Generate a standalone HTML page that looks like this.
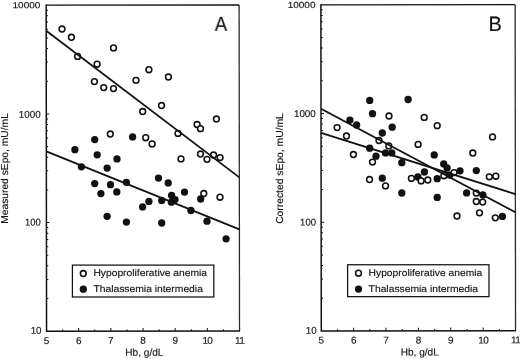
<!DOCTYPE html>
<html><head><meta charset="utf-8"><style>
html,body{margin:0;padding:0;background:#fff;}
svg{display:block;will-change:transform;font-family:"Liberation Sans",sans-serif;fill:#111;}
text{text-rendering:geometricPrecision;stroke:#111;stroke-width:0.14px;}
.l{font-size:9.7px;}
.b{filter:blur(0.35px);}
.tx{filter:blur(0.2px);}
</style></head><body>
<svg width="520" height="359" viewBox="0 0 520 359">
<rect width="520" height="359" fill="#fff"/>
<g class="b"><g transform="rotate(-0.0705 260 180)"><path d="M46.37 4.95H239.33" fill="none" stroke="#111" stroke-width="1.3"/><path d="M239.33 4.95V331.03" fill="none" stroke="#2a2a2a" stroke-width="1.3"/>
<path d="M46.37 4.3500000000000005V331.03H239.83" fill="none" stroke="#111" stroke-width="1.5"/>
<path d="M46.37 298.31h1.8M46.37 279.17h1.8M46.37 265.59h1.8M46.37 255.06h1.8M46.37 246.45h1.8M46.37 239.17h1.8M46.37 232.87h1.8M46.37 227.31h1.8M46.37 222.34h3M46.37 189.62h1.8M46.37 170.48h1.8M46.37 156.90h1.8M46.37 146.36h1.8M46.37 137.76h1.8M46.37 130.48h1.8M46.37 124.18h1.8M46.37 118.62h1.8M46.37 113.64h3M46.37 80.92h1.8M46.37 61.78h1.8M46.37 48.20h1.8M46.37 37.67h1.8M46.37 29.06h1.8M46.37 21.79h1.8M46.37 15.48h1.8M46.37 9.92h1.8" stroke="#111" stroke-width="1" fill="none"/>
<path d="M62.45 331.03v-1.8M78.53 331.03v-3.2M94.61 331.03v-1.8M110.69 331.03v-3.2M126.77 331.03v-1.8M142.85 331.03v-3.2M158.93 331.03v-1.8M175.01 331.03v-3.2M191.09 331.03v-1.8M207.17 331.03v-3.2M223.25 331.03v-1.8" stroke="#111" stroke-width="1" fill="none"/></g>
<circle cx="94.7" cy="139.6" r="3.65" fill="#111"/>
<circle cx="132.6" cy="136.9" r="3.65" fill="#111"/>
<circle cx="74.9" cy="149.7" r="3.65" fill="#111"/>
<circle cx="97.2" cy="154.8" r="3.65" fill="#111"/>
<circle cx="117.0" cy="158.9" r="3.65" fill="#111"/>
<circle cx="81.4" cy="166.8" r="3.65" fill="#111"/>
<circle cx="107.1" cy="168.1" r="3.65" fill="#111"/>
<circle cx="94.7" cy="183.6" r="3.65" fill="#111"/>
<circle cx="110.5" cy="184.7" r="3.65" fill="#111"/>
<circle cx="126.4" cy="182.3" r="3.65" fill="#111"/>
<circle cx="100.9" cy="193.6" r="3.65" fill="#111"/>
<circle cx="116.8" cy="191.9" r="3.65" fill="#111"/>
<circle cx="142.6" cy="206.9" r="3.65" fill="#111"/>
<circle cx="148.9" cy="201.4" r="3.65" fill="#111"/>
<circle cx="107.1" cy="216.3" r="3.65" fill="#111"/>
<circle cx="126.4" cy="222.1" r="3.65" fill="#111"/>
<circle cx="158.5" cy="178.1" r="3.65" fill="#111"/>
<circle cx="168.2" cy="182.9" r="3.65" fill="#111"/>
<circle cx="184.5" cy="192.1" r="3.65" fill="#111"/>
<circle cx="171.6" cy="195.5" r="3.65" fill="#111"/>
<circle cx="175.0" cy="199.6" r="3.65" fill="#111"/>
<circle cx="171.4" cy="202.2" r="3.65" fill="#111"/>
<circle cx="161.7" cy="200.4" r="3.65" fill="#111"/>
<circle cx="200.7" cy="199.0" r="3.65" fill="#111"/>
<circle cx="190.9" cy="210.5" r="3.65" fill="#111"/>
<circle cx="161.7" cy="223.0" r="3.65" fill="#111"/>
<circle cx="207.0" cy="221.2" r="3.65" fill="#111"/>
<circle cx="226.1" cy="238.8" r="3.65" fill="#111"/>
<circle cx="62.0" cy="29.0" r="2.9" fill="#fff" stroke="#111" stroke-width="1.55"/>
<circle cx="71.4" cy="37.3" r="2.9" fill="#fff" stroke="#111" stroke-width="1.55"/>
<circle cx="77.6" cy="56.4" r="2.9" fill="#fff" stroke="#111" stroke-width="1.55"/>
<circle cx="97.1" cy="64.2" r="2.9" fill="#fff" stroke="#111" stroke-width="1.55"/>
<circle cx="113.5" cy="47.9" r="2.9" fill="#fff" stroke="#111" stroke-width="1.55"/>
<circle cx="94.4" cy="81.6" r="2.9" fill="#fff" stroke="#111" stroke-width="1.55"/>
<circle cx="103.7" cy="87.6" r="2.9" fill="#fff" stroke="#111" stroke-width="1.55"/>
<circle cx="113.5" cy="88.6" r="2.9" fill="#fff" stroke="#111" stroke-width="1.55"/>
<circle cx="136.0" cy="80.3" r="2.9" fill="#fff" stroke="#111" stroke-width="1.55"/>
<circle cx="148.9" cy="69.7" r="2.9" fill="#fff" stroke="#111" stroke-width="1.55"/>
<circle cx="168.4" cy="77.0" r="2.9" fill="#fff" stroke="#111" stroke-width="1.55"/>
<circle cx="161.5" cy="105.5" r="2.9" fill="#fff" stroke="#111" stroke-width="1.55"/>
<circle cx="142.7" cy="111.5" r="2.9" fill="#fff" stroke="#111" stroke-width="1.55"/>
<circle cx="216.4" cy="119.0" r="2.9" fill="#fff" stroke="#111" stroke-width="1.55"/>
<circle cx="197.1" cy="124.5" r="2.9" fill="#fff" stroke="#111" stroke-width="1.55"/>
<circle cx="200.5" cy="128.7" r="2.9" fill="#fff" stroke="#111" stroke-width="1.55"/>
<circle cx="178.0" cy="133.4" r="2.9" fill="#fff" stroke="#111" stroke-width="1.55"/>
<circle cx="145.7" cy="137.7" r="2.9" fill="#fff" stroke="#111" stroke-width="1.55"/>
<circle cx="152.1" cy="143.9" r="2.9" fill="#fff" stroke="#111" stroke-width="1.55"/>
<circle cx="200.5" cy="154.0" r="2.9" fill="#fff" stroke="#111" stroke-width="1.55"/>
<circle cx="207.0" cy="159.3" r="2.9" fill="#fff" stroke="#111" stroke-width="1.55"/>
<circle cx="213.6" cy="155.0" r="2.9" fill="#fff" stroke="#111" stroke-width="1.55"/>
<circle cx="220.1" cy="157.6" r="2.9" fill="#fff" stroke="#111" stroke-width="1.55"/>
<circle cx="181.0" cy="158.9" r="2.9" fill="#fff" stroke="#111" stroke-width="1.55"/>
<circle cx="110.3" cy="134.0" r="2.9" fill="#fff" stroke="#111" stroke-width="1.55"/>
<circle cx="203.8" cy="193.5" r="2.9" fill="#fff" stroke="#111" stroke-width="1.55"/>
<circle cx="220.0" cy="197.2" r="2.9" fill="#fff" stroke="#111" stroke-width="1.55"/>
<line x1="46.2" y1="30.75" x2="239.33" y2="177.4" stroke="#111" stroke-width="1.8"/>
<line x1="46.33" y1="151.4" x2="239.38" y2="229.35" stroke="#111" stroke-width="1.8"/>
<rect x="72.4" y="265.1" width="141.4" height="31.9" fill="#fff" stroke="#111" stroke-width="1.25"/>
<circle cx="83.30000000000001" cy="273.5" r="2.9" fill="#fff" stroke="#111" stroke-width="1.55"/>
<circle cx="83.30000000000001" cy="289.2" r="3.65" fill="#111"/></g>
<g class="tx"><g transform="rotate(-0.0705 260 180)"><text transform="translate(41.37 333.53) scale(0.98 0.98)" text-anchor="end" style="font-size:10px" >10</text>
<text transform="translate(40.77 225.14) scale(0.95 0.98)" text-anchor="end" style="font-size:10px" >100</text>
<text transform="translate(40.77 117.44) scale(0.985 0.98)" text-anchor="end" style="font-size:10px" >1000</text>
<text transform="translate(40.57 7.85) scale(1.0 0.88)" text-anchor="end" style="font-size:10px" >10000</text>
<text transform="translate(46.37 343.66) scale(1.0 0.98)" text-anchor="middle" style="font-size:10px" >5</text>
<text transform="translate(78.53 343.66) scale(1.0 0.98)" text-anchor="middle" style="font-size:10px" >6</text>
<text transform="translate(110.69 343.66) scale(1.0 0.98)" text-anchor="middle" style="font-size:10px" >7</text>
<text transform="translate(142.85 343.66) scale(1.0 0.98)" text-anchor="middle" style="font-size:10px" >8</text>
<text transform="translate(175.01 343.66) scale(1.0 0.98)" text-anchor="middle" style="font-size:10px" >9</text>
<text transform="translate(207.47 343.66) scale(1.0 0.98)" text-anchor="middle" style="font-size:10px" >1<tspan dx="-0.7">0</tspan></text>
<text transform="translate(239.63 343.66) scale(1.0 0.98)" text-anchor="middle" style="font-size:10px" >1<tspan dx="-0.7">1</tspan></text>
<text transform="translate(144.15 355.66) scale(1.01 1.0)" text-anchor="middle" style="font-size:10px" >Hb, g/dL</text></g>
<text transform="translate(8.10 168.5) rotate(-90)" text-anchor="middle" style="font-size:10.1px" textLength="110.7" lengthAdjust="spacingAndGlyphs">Measured sEpo, mU/mL</text>
<text transform="translate(221.05 31.20) scale(0.92 1.02)" text-anchor="middle" style="font-size:20px" >A</text>
<text x="93.4" y="276.35" class="l" textLength="113.7" lengthAdjust="spacingAndGlyphs">Hypoproliferative anemia</text>
<text x="93.4" y="291.85" class="l" textLength="109.5" lengthAdjust="spacingAndGlyphs">Thalassemia intermedia</text></g>
<g class="b"><g transform="rotate(-0.0705 260 180)"><path d="M321.1 4.95H515.35" fill="none" stroke="#111" stroke-width="1.3"/><path d="M515.35 4.95V331.03" fill="none" stroke="#2a2a2a" stroke-width="1.3"/>
<path d="M321.1 4.3500000000000005V331.03H515.85" fill="none" stroke="#111" stroke-width="1.5"/>
<path d="M321.1 298.31h1.8M321.1 279.17h1.8M321.1 265.59h1.8M321.1 255.06h1.8M321.1 246.45h1.8M321.1 239.17h1.8M321.1 232.87h1.8M321.1 227.31h1.8M321.1 222.34h3M321.1 189.62h1.8M321.1 170.48h1.8M321.1 156.90h1.8M321.1 146.36h1.8M321.1 137.76h1.8M321.1 130.48h1.8M321.1 124.18h1.8M321.1 118.62h1.8M321.1 113.64h3M321.1 80.92h1.8M321.1 61.78h1.8M321.1 48.20h1.8M321.1 37.67h1.8M321.1 29.06h1.8M321.1 21.79h1.8M321.1 15.48h1.8M321.1 9.92h1.8" stroke="#111" stroke-width="1" fill="none"/>
<path d="M337.29 331.03v-1.8M353.48 331.03v-3.2M369.66 331.03v-1.8M385.85 331.03v-3.2M402.04 331.03v-1.8M418.23 331.03v-3.2M434.41 331.03v-1.8M450.60 331.03v-3.2M466.79 331.03v-1.8M482.98 331.03v-3.2M499.16 331.03v-1.8" stroke="#111" stroke-width="1" fill="none"/></g>
<circle cx="369.7" cy="100.4" r="3.65" fill="#111"/>
<circle cx="408.1" cy="99.5" r="3.65" fill="#111"/>
<circle cx="372.5" cy="113.7" r="3.65" fill="#111"/>
<circle cx="349.9" cy="120.1" r="3.65" fill="#111"/>
<circle cx="356.6" cy="125.0" r="3.65" fill="#111"/>
<circle cx="392.2" cy="127.2" r="3.65" fill="#111"/>
<circle cx="382.3" cy="133.0" r="3.65" fill="#111"/>
<circle cx="369.7" cy="148.2" r="3.65" fill="#111"/>
<circle cx="385.5" cy="152.9" r="3.65" fill="#111"/>
<circle cx="391.8" cy="152.9" r="3.65" fill="#111"/>
<circle cx="376.0" cy="156.2" r="3.65" fill="#111"/>
<circle cx="401.8" cy="162.7" r="3.65" fill="#111"/>
<circle cx="382.3" cy="178.2" r="3.65" fill="#111"/>
<circle cx="401.8" cy="193.0" r="3.65" fill="#111"/>
<circle cx="417.9" cy="177.0" r="3.65" fill="#111"/>
<circle cx="424.4" cy="172.0" r="3.65" fill="#111"/>
<circle cx="434.2" cy="154.9" r="3.65" fill="#111"/>
<circle cx="443.7" cy="163.9" r="3.65" fill="#111"/>
<circle cx="447.1" cy="168.0" r="3.65" fill="#111"/>
<circle cx="460.0" cy="170.8" r="3.65" fill="#111"/>
<circle cx="476.3" cy="170.6" r="3.65" fill="#111"/>
<circle cx="437.2" cy="178.7" r="3.65" fill="#111"/>
<circle cx="449.7" cy="175.1" r="3.65" fill="#111"/>
<circle cx="437.2" cy="197.4" r="3.65" fill="#111"/>
<circle cx="466.6" cy="192.9" r="3.65" fill="#111"/>
<circle cx="482.9" cy="195.0" r="3.65" fill="#111"/>
<circle cx="502.4" cy="216.4" r="3.65" fill="#111"/>
<circle cx="389.0" cy="116.0" r="2.9" fill="#fff" stroke="#111" stroke-width="1.55"/>
<circle cx="424.2" cy="117.4" r="2.9" fill="#fff" stroke="#111" stroke-width="1.55"/>
<circle cx="337.1" cy="127.6" r="2.9" fill="#fff" stroke="#111" stroke-width="1.55"/>
<circle cx="346.5" cy="136.0" r="2.9" fill="#fff" stroke="#111" stroke-width="1.55"/>
<circle cx="379.0" cy="140.5" r="2.9" fill="#fff" stroke="#111" stroke-width="1.55"/>
<circle cx="388.8" cy="145.9" r="2.9" fill="#fff" stroke="#111" stroke-width="1.55"/>
<circle cx="418.1" cy="144.4" r="2.9" fill="#fff" stroke="#111" stroke-width="1.55"/>
<circle cx="353.4" cy="154.5" r="2.9" fill="#fff" stroke="#111" stroke-width="1.55"/>
<circle cx="372.5" cy="162.1" r="2.9" fill="#fff" stroke="#111" stroke-width="1.55"/>
<circle cx="369.5" cy="179.5" r="2.9" fill="#fff" stroke="#111" stroke-width="1.55"/>
<circle cx="385.5" cy="185.9" r="2.9" fill="#fff" stroke="#111" stroke-width="1.55"/>
<circle cx="411.4" cy="178.4" r="2.9" fill="#fff" stroke="#111" stroke-width="1.55"/>
<circle cx="421.1" cy="180.9" r="2.9" fill="#fff" stroke="#111" stroke-width="1.55"/>
<circle cx="437.2" cy="125.7" r="2.9" fill="#fff" stroke="#111" stroke-width="1.55"/>
<circle cx="492.5" cy="136.9" r="2.9" fill="#fff" stroke="#111" stroke-width="1.55"/>
<circle cx="472.8" cy="153.0" r="2.9" fill="#fff" stroke="#111" stroke-width="1.55"/>
<circle cx="454.0" cy="172.6" r="2.9" fill="#fff" stroke="#111" stroke-width="1.55"/>
<circle cx="489.3" cy="176.8" r="2.9" fill="#fff" stroke="#111" stroke-width="1.55"/>
<circle cx="495.8" cy="176.2" r="2.9" fill="#fff" stroke="#111" stroke-width="1.55"/>
<circle cx="427.8" cy="180.0" r="2.9" fill="#fff" stroke="#111" stroke-width="1.55"/>
<circle cx="443.9" cy="175.7" r="2.9" fill="#fff" stroke="#111" stroke-width="1.55"/>
<circle cx="476.3" cy="193.1" r="2.9" fill="#fff" stroke="#111" stroke-width="1.55"/>
<circle cx="476.3" cy="201.5" r="2.9" fill="#fff" stroke="#111" stroke-width="1.55"/>
<circle cx="482.7" cy="202.1" r="2.9" fill="#fff" stroke="#111" stroke-width="1.55"/>
<circle cx="479.5" cy="212.8" r="2.9" fill="#fff" stroke="#111" stroke-width="1.55"/>
<circle cx="457.0" cy="216.0" r="2.9" fill="#fff" stroke="#111" stroke-width="1.55"/>
<circle cx="495.3" cy="217.8" r="2.9" fill="#fff" stroke="#111" stroke-width="1.55"/>
<line x1="321.0" y1="108.8" x2="515.39" y2="212.3" stroke="#111" stroke-width="1.8"/>
<line x1="321.04" y1="132.9" x2="515.37" y2="194.05" stroke="#111" stroke-width="1.8"/>
<rect x="347.6" y="264.75" width="141.4" height="31.9" fill="#fff" stroke="#111" stroke-width="1.25"/>
<circle cx="358.5" cy="273.15" r="2.9" fill="#fff" stroke="#111" stroke-width="1.55"/>
<circle cx="358.5" cy="289.025" r="3.65" fill="#111"/></g>
<g class="tx"><g transform="rotate(-0.0705 260 180)"><text transform="translate(316.50 333.83) scale(0.98 0.98)" text-anchor="end" style="font-size:10px" >10</text>
<text transform="translate(315.90 225.47) scale(0.95 0.98)" text-anchor="end" style="font-size:10px" >100</text>
<text transform="translate(315.90 116.97) scale(0.985 0.98)" text-anchor="end" style="font-size:10px" >1000</text>
<text transform="translate(315.70 8.15) scale(1.0 0.88)" text-anchor="end" style="font-size:10px" >10000</text>
<text transform="translate(321.10 343.66) scale(1.0 0.98)" text-anchor="middle" style="font-size:10px" >5</text>
<text transform="translate(353.48 343.66) scale(1.0 0.98)" text-anchor="middle" style="font-size:10px" >6</text>
<text transform="translate(385.85 343.66) scale(1.0 0.98)" text-anchor="middle" style="font-size:10px" >7</text>
<text transform="translate(418.23 343.66) scale(1.0 0.98)" text-anchor="middle" style="font-size:10px" >8</text>
<text transform="translate(450.60 343.66) scale(1.0 0.98)" text-anchor="middle" style="font-size:10px" >9</text>
<text transform="translate(483.28 343.66) scale(1.0 0.98)" text-anchor="middle" style="font-size:10px" >1<tspan dx="-0.7">0</tspan></text>
<text transform="translate(515.65 343.66) scale(1.0 0.98)" text-anchor="middle" style="font-size:10px" >1<tspan dx="-0.7">1</tspan></text>
<text transform="translate(419.53 355.66) scale(1.01 1.0)" text-anchor="middle" style="font-size:10px" >Hb, g/dL</text></g>
<text transform="translate(283.00 168.5) rotate(-90)" text-anchor="middle" style="font-size:10.1px" textLength="110.7" lengthAdjust="spacingAndGlyphs">Corrected sEpo, mU/mL</text>
<text transform="translate(495.20 31.20) scale(1.0 1.05)" text-anchor="middle" style="font-size:20px" >B</text>
<text x="368.6" y="276.0" class="l" textLength="113.7" lengthAdjust="spacingAndGlyphs">Hypoproliferative anemia</text>
<text x="368.6" y="291.5" class="l" textLength="109.5" lengthAdjust="spacingAndGlyphs">Thalassemia intermedia</text></g>
</svg>
</body></html>
